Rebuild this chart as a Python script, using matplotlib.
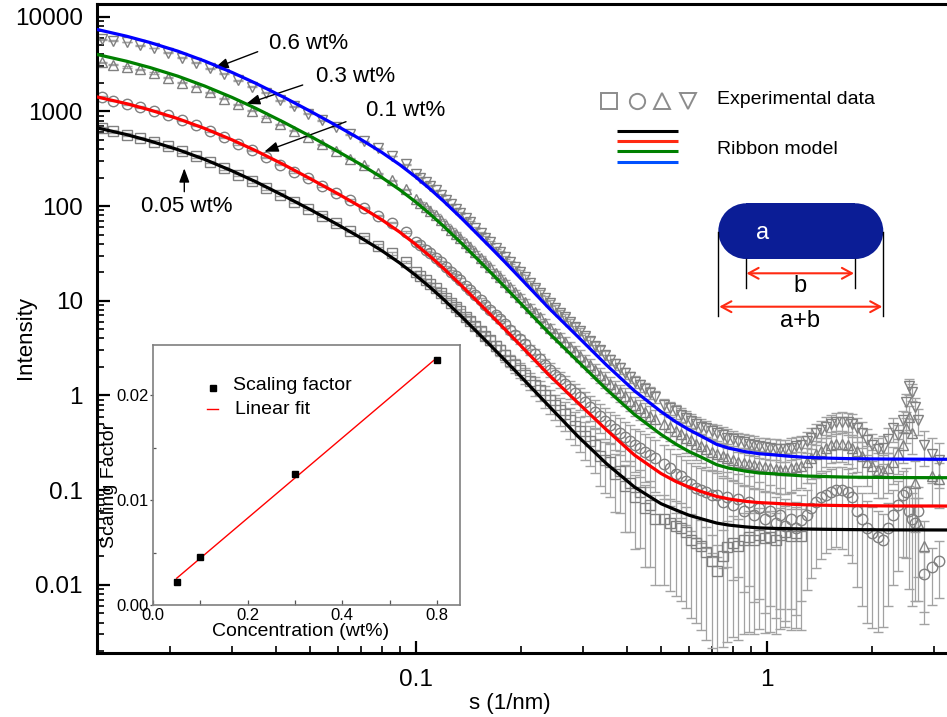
import numpy as np
import matplotlib
matplotlib.use('Agg')
import matplotlib.pyplot as plt
from matplotlib.ticker import LogLocator, NullFormatter, FixedLocator
from matplotlib.patches import Rectangle, Ellipse
from matplotlib.lines import Line2D

plt.rcParams['font.family'] = ['Liberation Sans', 'DejaVu Sans']
nan = float('nan')

# ---------------- data ----------------
# ribbon-model curves
s_fit = [0.0123, 0.015, 0.0175, 0.021, 0.025, 0.030, 0.035, 0.042, 0.050, 0.060,
         0.070, 0.080, 0.090, 0.100, 0.110, 0.120, 0.135, 0.150, 0.165, 0.180,
         0.200, 0.240, 0.290, 0.350, 0.420, 0.500, 0.550, 0.600, 0.650, 0.720,
         0.780, 0.870, 0.950, 1.05, 1.15, 1.30, 1.50, 1.70, 2.00, 2.30,
         3.30]
fit_06 = [7362, 6223, 5333, 4325, 3412, 2576, 1982, 1416, 1007, 695,
          502, 370, 274, 203, 151, 113, 74.5, 50.4, 35.3, 25.4,
          16.9, 8.32, 4.17, 2.09, 1.12, 0.676, 0.529, 0.436, 0.374, 0.305,
          0.278, 0.255, 0.243, 0.236, 0.229, 0.222, 0.218, 0.2155, 0.214, 0.213,
          0.212]
fit_03 = [4009, 3388, 2904, 2355, 1858, 1403, 1079, 771, 548, 378,
          273, 201, 149, 110.5, 82.2, 61.5, 40.6, 27.47, 19.25, 13.86,
          9.22, 4.55, 2.29, 1.158, 0.630, 0.388, 0.308, 0.257, 0.224, 0.186,
          0.171, 0.159, 0.152, 0.149, 0.145, 0.141, 0.139, 0.1374, 0.1366, 0.136,
          0.1355]
fit_01 = [1428, 1207, 1035, 839, 662, 500, 385, 275, 195, 135,
          97.4, 71.8, 53.2, 39.4, 29.4, 22.0, 14.48, 9.81, 6.88, 4.96,
          3.31, 1.641, 0.836, 0.432, 0.235, 0.150, 0.124, 0.108, 0.097, 0.086,
          0.0808, 0.0763, 0.074, 0.0727, 0.0713, 0.070, 0.0692, 0.0687, 0.0684, 0.0682,
          0.068]
fit_005 = [673, 569, 487, 395, 312, 235, 181, 129, 92.1, 63.6,
           45.9, 33.9, 25.1, 18.6, 13.84, 10.37, 6.83, 4.63, 3.25, 2.34,
           1.564, 0.77, 0.37, 0.19, 0.108, 0.072, 0.062, 0.0545, 0.050, 0.045,
           0.0428, 0.041, 0.040, 0.0395, 0.0392, 0.0389, 0.0386, 0.0384, 0.0382, 0.0381,
           0.038]

# experimental scattering vectors
s_low = [0.0128, 0.0137, 0.0150, 0.0164, 0.0180, 0.0197, 0.0216, 0.0237, 0.0260, 0.0285,
         0.0312, 0.0342, 0.0375, 0.0411, 0.0450, 0.0493, 0.0540, 0.0592, 0.0649, 0.0711,
         0.0779, 0.0854, 0.0936]
s_mid = [0.100, 0.103, 0.107, 0.110, 0.114, 0.118, 0.122, 0.126, 0.130, 0.134,
         0.139, 0.143, 0.148, 0.153, 0.158, 0.163, 0.169, 0.174, 0.180, 0.186,
         0.192, 0.198, 0.205, 0.212, 0.219, 0.226, 0.234, 0.242, 0.250, 0.258,
         0.267, 0.276, 0.285, 0.294, 0.304, 0.314, 0.325, 0.336, 0.347, 0.358,
         0.370, 0.382, 0.395, 0.408, 0.422, 0.436, 0.450, 0.465, 0.480]
s_high = [0.51, 0.53, 0.55, 0.57, 0.59, 0.61, 0.63, 0.65, 0.67, 0.70,
          0.72, 0.75, 0.77, 0.80, 0.83, 0.86, 0.89, 0.92, 0.95, 0.99,
          1.02, 1.06, 1.09, 1.13, 1.17, 1.21, 1.25, 1.30, 1.34, 1.38,
          1.43, 1.48, 1.53, 1.58, 1.64, 1.70, 1.75, 1.81, 1.87, 1.93,
          2.00, 2.07, 2.14, 2.21, 2.29, 2.37,
          2.45, 2.50, 2.55, 2.60, 2.65, 2.70, 2.80, 2.95, 3.10]
s_data = s_low + s_mid + s_high

# 0.6 wt% (down triangles)
data_06 = [5770, 5585, 5410, 5010, 4680, 4170, 3700, 3270, 2860, 2495,
           2140, 1825, 1570, 1315, 1130, 946, 809, 687, 571, 485,
           408, 338, 275,
           217, 199, 179, 164, 147, 131, 117, 104, 94.0, 84.5,
           74.1, 67.5, 59.4, 52.5, 46.6, 41.5, 36.1, 32.7, 28.8, 25.4,
           22.5, 20.2, 17.7, 15.5, 13.8, 12.2, 10.7, 9.48, 8.41, 7.50,
           6.70, 5.93, 5.35, 4.76, 4.22, 3.78, 3.33, 2.99, 2.65, 2.38,
           2.15, 1.93, 1.74, 1.56, 1.39, 1.28, 1.17, 1.07, 0.975,
           0.80, 0.74, 0.68, 0.63, 0.58, 0.54, 0.50, 0.47, 0.45, 0.42,
           0.40, 0.38, 0.36, 0.345, 0.33, 0.32, 0.31, 0.30, 0.29, 0.285,
           0.28, 0.275, 0.27, 0.27, 0.28, 0.29, 0.30, 0.33, 0.36, 0.40,
           0.43, 0.47, 0.50, 0.52, 0.53, 0.52, 0.50, 0.45, 0.40, 0.34,
           0.30, 0.27, 0.28, 0.35, 0.45, 0.38,
           0.55, 0.85, 1.25, 1.10, 0.75, 0.55, 0.30, 0.24, 0.21]
# 0.3 wt% (up triangles)
data_03 = [3289, 3112, 2944, 2793, 2547, 2270, 2014, 1824, 1592, 1358,
           1191, 1016, 875, 733, 628, 540, 451, 383, 318, 270,
           222, 188, 150,
           118, 108, 97.5, 89.3, 80.1, 71.4, 63.7, 56.6, 51.2, 46.0,
           40.4, 36.8, 32.4, 28.6, 25.4, 22.6, 19.7, 17.8, 15.7, 13.9,
           12.3, 11.1, 9.68, 8.48, 7.55, 6.68, 5.86, 5.20, 4.61, 4.12,
           3.68, 3.26, 2.95, 2.62, 2.33, 2.09, 1.84, 1.66, 1.48, 1.33,
           1.20, 1.08, 0.979, 0.881, 0.789, 0.729, 0.669, 0.614, 0.562,
           0.50, 0.46, 0.42, 0.39, 0.36, 0.34, 0.31, 0.29, 0.27, 0.255,
           0.24, 0.23, 0.22, 0.21, 0.20, 0.195, 0.19, 0.185, 0.18, 0.175,
           0.17, 0.168, 0.165, 0.165, 0.17, 0.175, 0.18, 0.20, 0.22, 0.24,
           0.26, 0.28, 0.30, 0.31, 0.31, 0.30, 0.28, 0.26, 0.23, 0.20,
           0.18, 0.165, 0.16, 0.17, 0.20, 0.25,
           0.30, 0.45, 0.60, 0.40, 0.12, 0.045, 0.026, 0.14, 0.13]
# 0.1 wt% (circles)
data_01 = [1409, 1303, 1205, 1117, 1019, 908, 805, 713, 622, 531,
           455, 388, 327, 274, 230, 197, 164, 136, 116, 96.4,
           79.3, 67.1, 53.3,
           42.2, 38.6, 34.8, 31.9, 28.6, 25.5, 22.8, 20.2, 18.3, 16.5,
           14.4, 13.1, 11.6, 10.2, 9.07, 8.08, 7.03, 6.37, 5.62, 4.96,
           4.39, 3.95, 3.46, 3.04, 2.71, 2.40, 2.10, 1.87, 1.66, 1.48,
           1.33, 1.18, 1.07, 0.953, 0.848, 0.763, 0.675, 0.609, 0.543, 0.491,
           0.446, 0.404, 0.367, 0.332, 0.299, 0.278, 0.256, 0.237, 0.218,
           0.19, 0.17, 0.15, 0.14, 0.125, 0.115, 0.105, 0.10, 0.095, 0.09,
           0.09, 0.075, 0.085, 0.07, 0.08, 0.06, 0.075, 0.055, 0.065, 0.05,
           0.06, 0.045, 0.055, 0.042, 0.05, 0.04, 0.048, 0.055, 0.065, 0.075,
           0.085, 0.09, 0.095, 0.10, 0.10, 0.095, 0.085, 0.06, 0.05, 0.04,
           0.035, 0.032, 0.03, 0.04, 0.055, 0.07,
           0.09, 0.095, 0.06, 0.05, 0.045, 0.06, 0.013, 0.0155, 0.018]
# 0.05 wt% (squares)
data_005 = [664, 614, 568, 526, 480, 428, 379, 336, 293, 250,
            214, 183, 154, 132, 111, 92.7, 79.3, 65.8, 54.7, 46.5,
            38.2, 31.6, 25.7,
            19.9, 18.2, 16.4, 15.0, 13.5, 12.0, 10.7, 9.54, 8.61, 7.74,
            6.79, 6.19, 5.45, 4.82, 4.28, 3.81, 3.32, 3.01, 2.65, 2.34,
            2.08, 1.87, 1.64, 1.44, 1.28, 1.15, 1.00, 0.886, 0.788, 0.705,
            0.632, 0.545, 0.48, 0.42, 0.37, 0.33, 0.30, 0.23, 0.21, 0.20,
            0.15, 0.16, 0.11, 0.12, 0.085, 0.095, 0.065, 0.07, 0.05,
            0.050, 0.045, 0.042, 0.040, 0.036, 0.030, 0.028, 0.026, 0.022, 0.018,
            0.014, 0.020, 0.025, 0.028, 0.026, 0.030, 0.032, 0.030, 0.034, 0.031,
            0.032, 0.030, 0.034, 0.036, 0.033, 0.035, 0.033, nan, nan, nan,
            nan, nan, nan, nan, nan, nan, nan, nan, nan, nan,
            nan, nan, nan, nan, nan, nan,
            nan, nan, nan, nan, nan, nan, nan, nan, nan]

# relative errors of the experimental points
relerr_06 = [0.01, 0.01, 0.01, 0.01, 0.01, 0.01, 0.01, 0.01, 0.01, 0.01,
             0.01, 0.01, 0.01, 0.01, 0.01, 0.01, 0.01, 0.01, 0.01, 0.01,
             0.01, 0.01, 0.01,
             0.010, 0.010, 0.010, 0.012, 0.012, 0.014, 0.015, 0.016, 0.018, 0.020,
             0.020, 0.022, 0.024, 0.025, 0.027, 0.030, 0.030, 0.033, 0.035, 0.038,
             0.040, 0.043, 0.046, 0.050, 0.053, 0.056, 0.060, 0.064, 0.068, 0.072,
             0.076, 0.080, 0.085, 0.090, 0.095, 0.100, 0.105, 0.110, 0.115, 0.120,
             0.125, 0.130, 0.135, 0.140, 0.142, 0.144, 0.146, 0.148, 0.150,
             0.16, 0.165, 0.17, 0.175, 0.18, 0.185, 0.19, 0.195, 0.20, 0.20,
             0.21, 0.21, 0.22, 0.22, 0.23, 0.23, 0.24, 0.24, 0.24, 0.25,
             0.25, 0.25, 0.26, 0.26, 0.26, 0.26, 0.26, 0.25, 0.25, 0.25,
             0.25, 0.25, 0.25, 0.25, 0.25, 0.26, 0.27, 0.28, 0.30, 0.31,
             0.32, 0.33, 0.32, 0.30, 0.28, 0.27,
             0.25, 0.22, 0.20, 0.21, 0.24, 0.30, 0.40, 0.50, 0.50]
relerr_03 = [0.015, 0.015, 0.015, 0.015, 0.015, 0.015, 0.015, 0.015, 0.015, 0.015,
             0.015, 0.015, 0.015, 0.015, 0.015, 0.015, 0.015, 0.015, 0.015, 0.015,
             0.015, 0.015, 0.015,
             0.015, 0.015, 0.016, 0.018, 0.019, 0.021, 0.023, 0.025, 0.028, 0.030,
             0.032, 0.035, 0.038, 0.040, 0.043, 0.047, 0.050, 0.053, 0.056, 0.060,
             0.064, 0.068, 0.073, 0.078, 0.083, 0.088, 0.094, 0.100, 0.106, 0.113,
             0.120, 0.127, 0.135, 0.143, 0.151, 0.160, 0.168, 0.176, 0.184, 0.192,
             0.200, 0.208, 0.216, 0.224, 0.232, 0.240, 0.248, 0.256, 0.264,
             0.27, 0.28, 0.29, 0.30, 0.31, 0.32, 0.33, 0.34, 0.35, 0.36,
             0.37, 0.38, 0.39, 0.40, 0.41, 0.42, 0.42, 0.43, 0.43, 0.44,
             0.44, 0.45, 0.45, 0.45, 0.44, 0.43, 0.42, 0.41, 0.40, 0.39,
             0.38, 0.37, 0.36, 0.36, 0.36, 0.37, 0.38, 0.40, 0.42, 0.45,
             0.48, 0.50, 0.48, 0.45, 0.42, 0.40,
             0.35, 0.30, 0.28, 0.40, 0.70, 0.85, 0.80, 0.50, 0.50]
relerr_01 = [0.02, 0.02, 0.02, 0.02, 0.02, 0.02, 0.02, 0.02, 0.02, 0.02,
             0.02, 0.02, 0.02, 0.02, 0.02, 0.02, 0.02, 0.02, 0.02, 0.02,
             0.02, 0.02, 0.02,
             0.020, 0.022, 0.024, 0.026, 0.028, 0.030, 0.033, 0.036, 0.040, 0.043,
             0.047, 0.051, 0.055, 0.060, 0.065, 0.070, 0.076, 0.082, 0.088, 0.095,
             0.10, 0.11, 0.12, 0.13, 0.14, 0.15, 0.16, 0.17, 0.18, 0.19,
             0.20, 0.22, 0.24, 0.26, 0.28, 0.30, 0.32, 0.34, 0.36, 0.38,
             0.40, 0.42, 0.44, 0.46, 0.48, 0.50, 0.52, 0.54, 0.56,
             0.58, 0.60, 0.62, 0.64, 0.66, 0.68, 0.70, 0.72, 0.74, 0.76,
             0.78, 0.80, 0.82, 0.84, 0.85, 0.86, 0.87, 0.88, 0.89, 0.90,
             0.90, 0.90, 0.90, 0.90, 0.89, 0.88, 0.86, 0.84, 0.82, 0.80,
             0.78, 0.76, 0.75, 0.75, 0.76, 0.78, 0.80, 0.84, 0.88, 0.90,
             0.90, 0.90, 0.88, 0.85, 0.82, 0.80,
             0.78, 0.80, 0.85, 0.88, 0.85, 0.80, 0.70, 0.60, 0.60]
relerr_005 = [0.03, 0.03, 0.03, 0.03, 0.03, 0.03, 0.03, 0.03, 0.03, 0.03,
              0.03, 0.03, 0.03, 0.03, 0.03, 0.03, 0.03, 0.03, 0.03, 0.03,
              0.03, 0.03, 0.03,
              0.030, 0.033, 0.036, 0.040, 0.044, 0.048, 0.052, 0.057, 0.062, 0.068,
              0.074, 0.080, 0.087, 0.095, 0.10, 0.11, 0.12, 0.13, 0.14, 0.15,
              0.16, 0.18, 0.19, 0.21, 0.22, 0.24, 0.26, 0.28, 0.30, 0.32,
              0.34, 0.36, 0.38, 0.40, 0.43, 0.46, 0.49, 0.52, 0.55, 0.58,
              0.61, 0.64, 0.67, 0.70, 0.72, 0.74, 0.76, 0.78, 0.80,
              0.80, 0.81, 0.82, 0.83, 0.84, 0.85, 0.86, 0.87, 0.88, 0.88,
              0.89, 0.89, 0.90, 0.90, 0.90, 0.90, 0.90, 0.90, 0.90, 0.90,
              0.90, 0.90, 0.90, 0.90, 0.90, 0.90, 0.90, nan, nan, nan,
              nan, nan, nan, nan, nan, nan, nan, nan, nan, nan,
              nan, nan, nan, nan, nan, nan,
              nan, nan, nan, nan, nan, nan, nan, nan, nan]

# inset data
conc = [0.05, 0.1, 0.3, 0.6]
scaling = [0.00223, 0.00461, 0.01248, 0.0234]

y_ticks = [0.01, 0.1, 1, 10, 100, 1000, 10000]
y_ticklabels = ['0.01', '0.1', '1', '10', '100', '1000', '10000']
x_ticks = [0.1, 1]
x_ticklabels = ['0.1', '1']
inset_xticks = [0.0, 0.2, 0.4, 0.6]
inset_xticklabels = ['0.0', '0.2', '0.4', '0.8']
inset_yticks = [0.0, 0.01, 0.02]
inset_yticklabels = ['0.00', '0.01', '0.02']

# ---------------- figure ----------------
W, H = 947, 717
fig = plt.figure(figsize=(W / 100, H / 100), dpi=100)
ax = fig.add_axes([96.7 / W, 1 - 652.7 / H, (W - 96.7) / W, (652.7 - 4) / H])
ax.set_xscale('log')
ax.set_yscale('log')
ax.set_xlim(0.01233, 3.265)
ax.set_ylim(0.001923, 13620)

grey = '#808080'
ecol = '#a2a2a2'
series = [(data_005, relerr_005, 's'), (data_01, relerr_01, 'o'),
          (data_03, relerr_03, '^'), (data_06, relerr_06, 'v')]
for vals, rel, mk in series:
    v = np.array(vals, dtype=float)
    e = v * np.array(rel, dtype=float)
    ax.errorbar(s_data, v, yerr=e, fmt=mk, ms=7.5, mfc='none', mec=grey, mew=1.0,
                ecolor=ecol, elinewidth=0.9, capsize=3.5, capthick=0.9, zorder=2)

for vals, col in [(fit_005, 'black'), (fit_01, '#ff0000'), (fit_03, '#008000'), (fit_06, '#0000ff')]:
    ax.plot(s_fit, vals, color=col, lw=2.3, zorder=5, solid_capstyle='butt')

for side in ['left', 'bottom', 'top']:
    ax.spines[side].set_linewidth(2.2)
ax.spines['right'].set_visible(False)

ax.yaxis.set_major_locator(FixedLocator(y_ticks))
ax.set_yticklabels(y_ticklabels)
ax.yaxis.set_minor_locator(LogLocator(base=10, subs=(2, 3, 4, 5, 6, 7, 8, 9), numticks=20))
ax.yaxis.set_minor_formatter(NullFormatter())
ax.xaxis.set_major_locator(FixedLocator(x_ticks))
ax.set_xticklabels(x_ticklabels)
ax.xaxis.set_minor_locator(LogLocator(base=10, subs=(2, 3, 4, 5, 6, 7, 8, 9), numticks=20))
ax.xaxis.set_minor_formatter(NullFormatter())
ax.tick_params(which='major', direction='in', length=9, width=1.6, labelsize=17.5)
ax.tick_params(which='minor', direction='in', length=5, width=1.2)
ax.tick_params(axis='y', which='major', pad=10)
ax.tick_params(axis='x', which='major', pad=12)
ax.tick_params(top=False, right=False, which='both')

ax.set_ylabel('Intensity', fontsize=16, labelpad=0)
ax.set_xlabel('s (1/nm)', fontsize=16, labelpad=0)
ax.yaxis.set_label_coords(-0.0714, 0.486)
ax.xaxis.set_label_coords(0.486, -0.062)


def fpx(x, y):
    return (x, H - y)


def ftext(x, y, s, **kw):
    fig.text(x / W, 1 - y / H, s, **kw)


# concentration annotations
ann = [('0.6 wt%', 268.7, 43.5, (257.7, 51.7), (214.3, 68.3)),
       ('0.3 wt%', 316, 77, (302.7, 85), (246, 104)),
       ('0.1 wt%', 366, 111, (346, 121.7), (264.3, 151.7)),
       ('0.05 wt%', 141, 206, (184.3, 191.7), (184.3, 168.3))]
for txt, tx, ty, tail, head in ann:
    ftext(tx, ty, txt, fontsize=16, ha='left', va='center')
    ax.annotate('', xy=fpx(*head), xytext=fpx(*tail), xycoords='figure pixels',
                textcoords='figure pixels', annotation_clip=False,
                arrowprops=dict(arrowstyle='-|>,head_length=0.6,head_width=0.22',
                                color='black', lw=1.0, shrinkA=0, shrinkB=0, mutation_scale=14))

# legend (main)
lgrey = '#8c8c8c'
for mk, x in [('s', 609), ('o', 636.7), ('^', 662), ('v', 687.7)]:
    fig.add_artist(Line2D([x / W], [1 - 100.7 / H], transform=fig.transFigure, marker=mk,
                          ms=11, mfc='none', mec=lgrey, mew=1.4, ls='none'))
ftext(717, 99, 'Experimental data', fontsize=14, ha='left', va='center')
for y, col in [(130.7, 'black'), (141, '#ff2a12'), (151, '#008000'), (162.3, '#0050ff')]:
    fig.add_artist(Line2D([616.7 / W, 678.3 / W], [1 - y / H, 1 - y / H], transform=fig.transFigure,
                          color=col, lw=2.2, solid_capstyle='butt'))
ftext(717, 150, 'Ribbon model', fontsize=14, ha='left', va='center')

# ribbon cross-section sketch
navy = '#0b1d96'
r = 27.85
x0, x1, yc = 718.3, 883.3, 231.15
fig.add_artist(Rectangle(((x0 + r) / W, 1 - (yc + r) / H), (x1 - x0 - 2 * r) / W, 2 * r / H,
                         transform=fig.transFigure, facecolor=navy, edgecolor='none'))
for cx in [x0 + r, x1 - r]:
    fig.add_artist(Ellipse((cx / W, 1 - yc / H), 2 * r / W, 2 * r / H,
                           transform=fig.transFigure, facecolor=navy, edgecolor='none'))
for x, ya, yb in [(x0, 232, 316), (x1, 232, 316), (745.5, 259, 288), (855, 259, 288)]:
    fig.add_artist(Line2D([x / W, x / W], [1 - ya / H, 1 - yb / H], transform=fig.transFigure,
                          color='black', lw=1.0))
red2 = '#ff2a12'
for a, b in [((745.5, 205), (745.5, 257)), ((746.5, 273.3), (854, 273.3)), ((719.3, 306.7), (882.3, 306.7))]:
    ax.annotate('', xy=fpx(*b), xytext=fpx(*a), xycoords='figure pixels', textcoords='figure pixels',
                annotation_clip=False,
                arrowprops=dict(arrowstyle='<->,head_length=0.55,head_width=0.3', color=red2,
                                lw=1.5, shrinkA=0, shrinkB=0, mutation_scale=13))
ftext(763, 233, 'a', fontsize=17, color='white', ha='center', va='center')
ftext(800, 286, 'b', fontsize=17, color='black', ha='center', va='center')
ftext(800, 321, 'a+b', fontsize=17, color='black', ha='center', va='center')

# ---------------- inset ----------------
ax2 = fig.add_axes([153.1 / W, 1 - 605 / H, (460 - 153.1) / W, (605 - 345) / H])
ax2.set_facecolor('white')
ax2.set_xlim(0, 0.649)
ax2.set_ylim(0, 0.0248)
coef = np.polyfit(conc, scaling, 1)
xx = np.array([conc[0], conc[-1]])
ax2.plot(xx, np.polyval(coef, xx), color='red', lw=1.0, zorder=2)
ax2.plot(conc, scaling, 's', color='black', ms=4.5, zorder=3)
for sp in ax2.spines.values():
    sp.set_color('#7f7f7f')
    sp.set_linewidth(1.2)
ax2.set_xticks(inset_xticks)
ax2.set_xticklabels(inset_xticklabels)
ax2.set_xticks([0.1, 0.3, 0.5], minor=True)
ax2.set_yticks(inset_yticks)
ax2.set_yticklabels(inset_yticklabels)
ax2.set_yticks([0.005, 0.015], minor=True)
ax2.tick_params(axis='x', which='both', direction='in', length=3.5, width=0.9, color='#555555',
                labelsize=12, pad=2.5)
ax2.tick_params(axis='y', which='major', direction='out', length=2.5, width=0.9, color='#555555',
                labelsize=12, pad=0.5)
ax2.tick_params(axis='y', which='minor', direction='in', length=2.5, width=0.9, color='#555555')
ax2.set_xlabel('Concentration (wt%)', fontsize=14, labelpad=0)
ax2.set_ylabel('Scaling Factor', fontsize=14, labelpad=0)
ax2.xaxis.set_label_coords(0.48, -0.069)
ax2.yaxis.set_label_coords(-0.113, 0.4615)

fig.add_artist(Line2D([213.3 / W], [1 - 388 / H], transform=fig.transFigure, marker='s', ms=4.5,
                      color='black', ls='none', zorder=5))
ftext(233.3, 385, 'Scaling factor', fontsize=14, ha='left', va='center')
fig.add_artist(Line2D([207.3 / W, 218.3 / W], [1 - 409 / H, 1 - 409 / H], transform=fig.transFigure,
                      color='red', lw=1.0, zorder=5))
ftext(235, 409, 'Linear fit', fontsize=14, ha='left', va='center')

fig.savefig('out.png', dpi=100)
